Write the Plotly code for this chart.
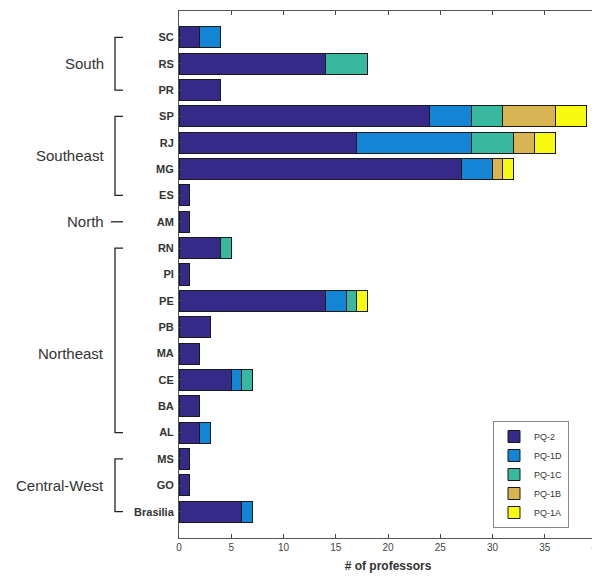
import plotly.graph_objects as go

# ---- data ----
states = ["SC", "RS", "PR", "SP", "RJ", "MG", "ES", "AM", "RN", "PI",
          "PE", "PB", "MA", "CE", "BA", "AL", "MS", "GO", "Brasilia"]
pq2  = [2, 14, 4, 24, 17, 27, 1, 1, 4, 1, 14, 3, 2, 5, 2, 2, 1, 1, 6]
pq1d = [2, 0, 0, 4, 11, 3, 0, 0, 0, 0, 2, 0, 0, 1, 0, 1, 0, 0, 1]
pq1c = [0, 4, 0, 3, 4, 0, 0, 0, 1, 0, 1, 0, 0, 1, 0, 0, 0, 0, 0]
pq1b = [0, 0, 0, 5, 2, 1, 0, 0, 0, 0, 0, 0, 0, 0, 0, 0, 0, 0, 0]
pq1a = [0, 0, 0, 3, 2, 1, 0, 0, 0, 0, 1, 0, 0, 0, 0, 0, 0, 0, 0]
series_names = ["PQ-2", "PQ-1D", "PQ-1C", "PQ-1B", "PQ-1A"]
regions = ["South", "Southeast", "North", "Northeast", "Central-West"]
region_first = ["SC", "SP", "AM", "RN", "MS"]
region_last = ["PR", "ES", "AM", "AL", "Brasilia"]
x_ticks = [0, 5, 10, 15, 20, 25, 30, 35, 40]

# ---- style ----
colors = ["#352A87", "#1485D4", "#38B89E", "#D8B552", "#F8FA10"]
OFF = 8                      # page offset of the figure (body margin)
W, H = 600 - OFF, 578 - OFF
# plot area in page pixels
PL, PR_, PT, PB_ = 179, 597, 11, 538
ML, MR, MT, MB = PL - OFF, W - (PR_ - OFF), PT - OFF, H - (PB_ - OFF)
PW = W - ML - MR
PH = H - MT - MB

def px_to_paper_x(px):
    return (px - PL) / PW

def px_to_paper_y(py):
    return (PB_ - py) / PH

ypos = {s: i + 1 for i, s in enumerate(states)}
yvals = [ypos[s] for s in states]

fig = go.Figure()
for name, vals, col in zip(series_names, [pq2, pq1d, pq1c, pq1b, pq1a], colors):
    fig.add_trace(go.Bar(
        y=yvals, x=[v if v else None for v in vals], orientation="h",
        name=name, width=0.8,
        marker=dict(color=col, line=dict(color="#1a1a1a", width=1)),
    ))

shapes = []
annotations = []
vx = px_to_paper_x(115)
tx = px_to_paper_x(123)
for reg, a, b in zip(regions, region_first, region_last):
    y0, y1 = ypos[a], ypos[b]
    if y0 == y1:
        shapes.append(dict(type="line", xref="paper", yref="y",
                           x0=px_to_paper_x(111), x1=tx, y0=y0, y1=y0,
                           line=dict(color="#222", width=1.3)))
    else:
        shapes.append(dict(type="path", xref="paper", yref="y",
                           path=f"M {tx} {y0} L {vx} {y0} L {vx} {y1} L {tx} {y1}",
                           line=dict(color="#222", width=1.3)))
    ymid = (y0 + y1) / 2
    if reg == "Northeast":
        ymid = ypos["MA"]
    annotations.append(dict(text=reg, xref="paper", yref="y",
                            x=px_to_paper_x(106), y=ymid, xanchor="right",
                            yanchor="middle", showarrow=False,
                            font=dict(size=15, color="#333", family="Arial")))

fig.update_layout(
    width=W, height=H, barmode="stack",
    margin=dict(l=ML, r=MR, t=MT, b=MB, autoexpand=False),
    plot_bgcolor="white", paper_bgcolor="white",
    font=dict(family="Arial", color="#333"),
    shapes=shapes, annotations=annotations,
    legend=dict(x=px_to_paper_x(493), y=px_to_paper_y(528),
                xanchor="left", yanchor="bottom", traceorder="normal",
                bgcolor="white", bordercolor="#888", borderwidth=1,
                font=dict(size=9, family="Arial", color="#333"),
                tracegroupgap=0, itemwidth=30),
    bargap=0.2,
)
fig.update_xaxes(range=[0, 40], tickvals=x_ticks, ticks="inside", ticklen=4,
                 mirror="ticks", showline=True, linecolor="#555", linewidth=1,
                 showgrid=False, zeroline=False, automargin=False,
                 ticklabeloverflow="allow",
                 tickfont=dict(size=10, color="#444"),
                 title=dict(text="<b># of professors</b>", font=dict(size=12, color="#333"),
                            standoff=9))
fig.update_yaxes(range=[len(states) + 1, 0], tickvals=yvals,
                 ticktext=[f"<b>{s}</b>" for s in states],
                 ticks="inside", ticklen=4, mirror="ticks", showline=True,
                 linecolor="#555", linewidth=1, showgrid=False, zeroline=False,
                 automargin=False,
                 tickfont=dict(size=11, color="#333"), ticklabelstandoff=2)

fig.write_html("out.html")
